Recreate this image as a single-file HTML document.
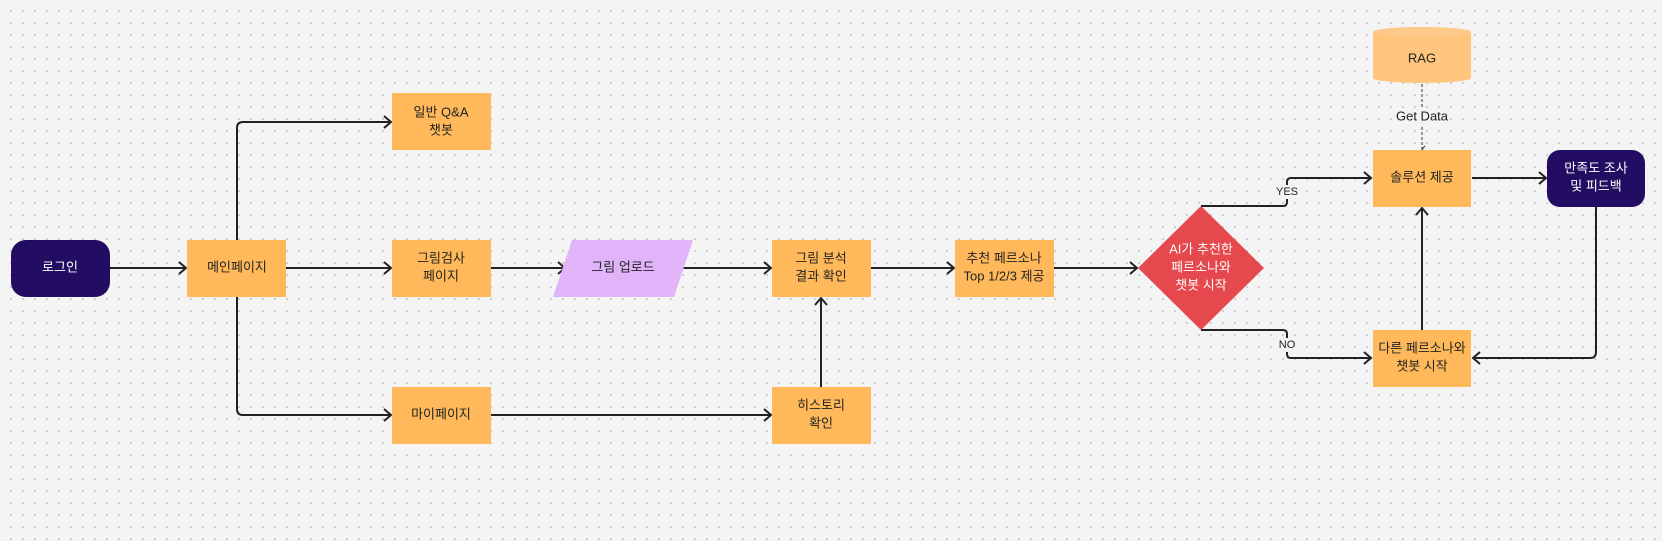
<!DOCTYPE html>
<html><head><meta charset="utf-8"><style>
body{margin:0;width:1662px;height:541px;overflow:hidden;background:#f4f4f4;
background-image:radial-gradient(circle,#c8c8c8 0.9px,transparent 1.2px);background-size:12px 12px;background-position:5px 5px;
font-family:"Liberation Sans","Noto Sans CJK KR",sans-serif;}
svg{position:absolute;left:0;top:0}
text{font-family:"Liberation Sans","Noto Sans CJK KR",sans-serif;font-size:13px;text-anchor:middle;dominant-baseline:middle;fill:#222}
.w{fill:#fff}
</style></head><body>
<svg width="1662" height="541" viewBox="0 0 1662 541">
<defs><marker id="a" markerWidth="12" markerHeight="16" refX="10" refY="8" orient="auto" markerUnits="userSpaceOnUse">
<path d="M3,2 L10,8 L3,14" fill="none" stroke="#222" stroke-width="2"/></marker>
<marker id="d" markerWidth="8" markerHeight="8" refX="4" refY="7" orient="auto" markerUnits="userSpaceOnUse">
<path d="M1,4 L4,7 L7,4" fill="none" stroke="#333" stroke-width="1"/></marker></defs>
<g fill="none" stroke="#222" stroke-width="2">
<path d="M110,268 H186" marker-end="url(#a)"/>
<path d="M286,268 H391" marker-end="url(#a)"/>
<path d="M237,240 V128 Q237,122 243,122 H391" marker-end="url(#a)"/>
<path d="M237,297 V409 Q237,415 243,415 H391" marker-end="url(#a)"/>
<path d="M491,268 H565" marker-end="url(#a)"/>
<path d="M681,268 H771" marker-end="url(#a)"/>
<path d="M491,415 H771" marker-end="url(#a)"/>
<path d="M821,387 V298" marker-end="url(#a)"/>
<path d="M871,268 H954" marker-end="url(#a)"/>
<path d="M1054,268 H1137" marker-end="url(#a)"/>
<path d="M1201,206 H1283 Q1287,206 1287,202 V182 Q1287,178 1291,178 H1371" marker-end="url(#a)"/>
<path d="M1201,330 H1283 Q1287,330 1287,334 V354 Q1287,358 1291,358 H1371" marker-end="url(#a)"/>
<path d="M1472,178 H1546" marker-end="url(#a)"/>
<path d="M1596,207 V352 Q1596,358 1590,358 H1473" marker-end="url(#a)"/>
<path d="M1422,330 V208" marker-end="url(#a)"/>
</g>
<path d="M1422,84 V108 M1422,127 V149" stroke="#333" stroke-width="1" stroke-dasharray="3,2" fill="none" marker-end="url(#d)"/>
<rect x="1270" y="185" width="34" height="14" fill="#f4f4f4"/><text x="1287" y="192" style="font-size:11px">YES</text>
<rect x="1273" y="338" width="28" height="14" fill="#f4f4f4"/><text x="1287" y="345" style="font-size:11px">NO</text>
<text x="1422" y="117">Get Data</text>
<rect x="11" y="240" width="99" height="57" rx="15" fill="#230d62"/><text class="w" x="60" y="268">로그인</text>
<rect x="187" y="240" width="99" height="57" fill="#ffb95a"/><text x="237" y="268">메인페이지</text>
<rect x="392" y="93" width="99" height="57" fill="#ffb95a"/><text x="441" y="113">일반 Q&amp;A</text><text x="441" y="131">챗봇</text>
<rect x="392" y="240" width="99" height="57" fill="#ffb95a"/><text x="441" y="259">그림검사</text><text x="441" y="277">페이지</text>
<rect x="392" y="387" width="99" height="57" fill="#ffb95a"/><text x="441" y="415">마이페이지</text>
<polygon points="572,240 693,240 674,297 553,297" fill="#e1b3f9"/><text x="623" y="268">그림 업로드</text>
<rect x="772" y="240" width="99" height="57" fill="#ffb95a"/><text x="821" y="259">그림 분석</text><text x="821" y="277">결과 확인</text>
<rect x="772" y="387" width="99" height="57" fill="#ffb95a"/><text x="821" y="406">히스토리</text><text x="821" y="424">확인</text>
<rect x="955" y="240" width="99" height="57" fill="#ffb95a"/><text x="1004" y="259">추천 페르소나</text><text x="1004" y="277">Top 1/2/3 제공</text>
<polygon points="1201,206 1264,268 1201,330 1138,268" fill="#e5484d"/>
<text class="w" x="1201" y="250">AI가 추천한</text><text class="w" x="1201" y="268">페르소나와</text><text class="w" x="1201" y="286">챗봇 시작</text>
<path d="M1373,32 V78 A49,5 0 0 0 1471,78 V32 A49,5 0 0 0 1373,32 Z" fill="#ffc57d"/>
<ellipse cx="1422" cy="32" rx="49" ry="5" fill="#ffc98a"/>
<text x="1422" y="59">RAG</text>
<rect x="1373" y="150" width="98" height="57" fill="#ffb95a"/><text x="1422" y="178">솔루션 제공</text>
<rect x="1547" y="150" width="98" height="57" rx="13" fill="#230d62"/><text class="w" x="1596" y="169">만족도 조사</text><text class="w" x="1596" y="187">및 피드백</text>
<rect x="1373" y="330" width="98" height="57" fill="#ffb95a"/><text x="1422" y="349">다른 페르소나와</text><text x="1422" y="367">챗봇 시작</text>
</svg>
</body></html>
